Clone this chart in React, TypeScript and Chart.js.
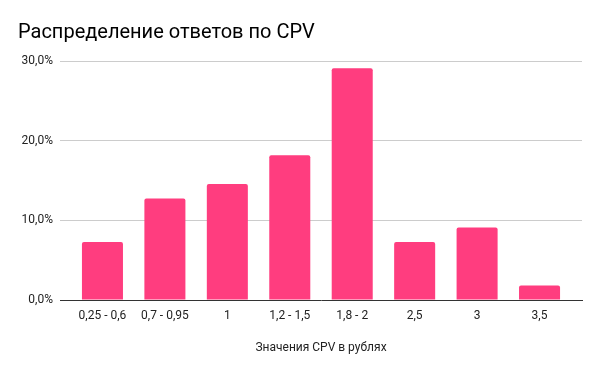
import React, { useEffect, useRef } from "react";
import { Chart, registerables } from "chart.js";

Chart.register(...registerables);

const categories = ["0,25 - 0,6", "0,7 - 0,95", "1", "1,2 - 1,5", "1,8 - 2", "2,5", "3", "3,5"];
const shares = [7.27, 12.73, 14.55, 18.18, 29.09, 7.27, 9.09, 1.82];
const yTicks = [0, 10, 20, 30];
const titleText = "Распределение ответов по CPV";
const xTitle = "Значения CPV в рублях";

const titlePlugin = {
  id: "leftTitle",
  afterDraw(chart: any) {
    const c = chart.ctx;
    c.save();
    c.font = "20px Roboto";
    c.fillStyle = "#000";
    c.textBaseline = "alphabetic";
    c.textAlign = "left";
    c.fillText(titleText, 18, 37.5);
    c.restore();
  },
};

export default function App() {
  const ref = useRef<HTMLCanvasElement>(null);
  useEffect(() => {
    document.body.style.margin = "0";
    const ctx = ref.current!;
    const chart = new Chart(ctx, {
      type: "bar",
      data: {
        datasets: [
          {
            data: shares.map((v, i) => ({ x: i, y: v })),
            backgroundColor: "#ff3d7f",
            borderRadius: { topLeft: 2, topRight: 2, bottomLeft: 0, bottomRight: 0 },
            borderSkipped: "bottom",
            categoryPercentage: 0.657,
            barPercentage: 1,
          },
        ],
      },
      plugins: [titlePlugin],
      options: {
        animation: false,
        responsive: false,
        maintainAspectRatio: false,
        layout: { padding: { left: 0, right: 18, top: 61, bottom: 0 } },
        plugins: {
          legend: { display: false },
          tooltip: { enabled: false },
          title: { display: false },
        },
        scales: {
          x: {
            type: "linear",
            offset: false,
            min: -0.68,
            max: 7.68,
            grid: { display: false },
            border: { display: true, color: "#333", width: 1 },
            afterBuildTicks: (s: any) => { s.ticks = categories.map((_, i) => ({ value: i })); },
            ticks: {
              color: "#222",
              font: { family: "Roboto", size: 12 },
              padding: 1,
              maxRotation: 0,
              autoSkip: false,
              callback: (v: any) => categories[Math.round(Number(v))] ?? "",
            },
            title: { display: true, text: xTitle, color: "#222", font: { family: "Roboto", size: 12 }, padding: { top: 0, bottom: 16 } },
            afterFit: (s: any) => { s.height = 71; },
          },
          y: {
            min: 0,
            max: 30,
            afterBuildTicks: (s: any) => { s.ticks = yTicks.map((v) => ({ value: v })); },
            grid: { color: (c: any) => (c.tick && c.tick.value === 0 ? "rgba(0,0,0,0)" : "#cccccc"), drawTicks: false },
            border: { display: false },
            ticks: {
              color: "#222",
              font: { family: "Roboto", size: 12 },
              padding: 7,
              callback: (v: any) => Number(v).toFixed(1).replace(".", ",") + "%",
            },
            afterFit: (s: any) => { s.width = 60; },
          },
        },
      },
    });
    return () => chart.destroy();
  }, []);
  return (
    <div style={{ width: 600, height: 371 }}>
      <canvas ref={ref} width={600} height={371} style={{ display: "block" }} />
    </div>
  );
}
